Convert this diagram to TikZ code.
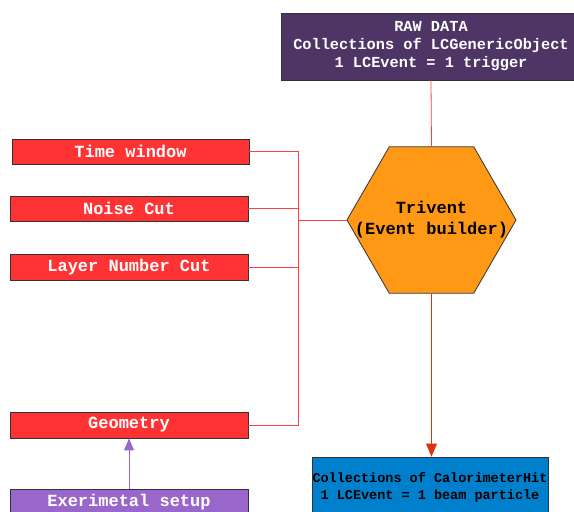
\documentclass[tikz,border=0pt]{standalone}
\usepackage{fontspec}
\setmonofont{Liberation Mono}
\usetikzlibrary{shapes.geometric,arrows.meta}
\definecolor{rawpurple}{HTML}{4E3566}
\definecolor{cutred}{HTML}{FF3333}
\definecolor{hexorange}{HTML}{FF9915}
\definecolor{caloblue}{HTML}{0080CC}
\definecolor{setuppurple}{HTML}{9966CC}
\definecolor{linkred}{HTML}{FF4040}
\definecolor{arrowred}{HTML}{E0300E}
\begin{document}
\begin{tikzpicture}[x=1pt,y=-1pt]
                    \tikzset{
                        cutbox/.style={draw=black!80, line width=0.8pt, fill=cutred, text=white, minimum width=238pt, minimum height=26pt, inner sep=0pt, font=\ttfamily\bfseries\fontsize{17}{20}\selectfont},
                        databox/.style={draw=black!80, line width=0.8pt, align=center, inner sep=0pt, font=\ttfamily\bfseries\fontsize{15.3}{18}\selectfont},
                        hexshape/.style={draw=black!80, line width=0.8pt, fill=hexorange, regular polygon, regular polygon sides=6, minimum size=169pt, inner sep=0pt},
                        link/.style={draw=linkred, line width=0.8pt}
                    }
                    \clip (0,0) rectangle (574,512);

                    \draw node[databox, fill=rawpurple, text=white, minimum width=300pt, minimum height=67pt] (raw) at (431,46.5) {RAW DATA\\Collections of LCGenericObject\\1 LCEvent = 1 trigger};
                    \draw node[hexshape] (hex) at (431.5,220) {};
                    \draw node[align=center, inner sep=0pt, font=\ttfamily\bfseries\fontsize{17}{21}\selectfont] (trivent) at (hex.center) {Trivent\\(Event builder)};
                    \draw node[cutbox, minimum width=237pt, minimum height=25pt] (tw) at (130.5,151.5) {Time window};
                    \draw node[cutbox, minimum height=25pt] (nc) at (129,208.5) {Noise Cut};
                    \draw node[cutbox] (ln) at (129,267) {Layer Number Cut};
                    \draw node[cutbox] (geo) at (129,425) {Geometry};
                    \draw node[cutbox, fill=setuppurple] (setup) at (129,502) {Exerimetal setup};
                    \draw node[databox, fill=caloblue, text=black, minimum width=236pt, minimum height=61pt, font=\ttfamily\bfseries\fontsize{13.5}{17}\selectfont] (calo) at (430,487.5) {Collections of CalorimeterHit\\1 LCEvent = 1 beam particle};
                    \coordinate (bus) at (298,220);

                    \foreach \x in {%
                        tw,nc,ln,geo%
                    }{
                    \draw[link] (\x.east) -| (bus);
                    }
                    \draw[link] (bus) -- (hex.west);
                    \draw[link] (raw.south) -- (hex.north);
                    \draw[draw=arrowred, line width=0.8pt, -{Triangle[length=13pt,width=11pt]}] (hex.south) -- (hex.south |- calo.north);
                    \draw[draw=setuppurple, line width=1pt, -{Triangle[length=12pt,width=10pt]}] (setup.north) -- (geo.south);
                    \end{tikzpicture}
\end{document}
